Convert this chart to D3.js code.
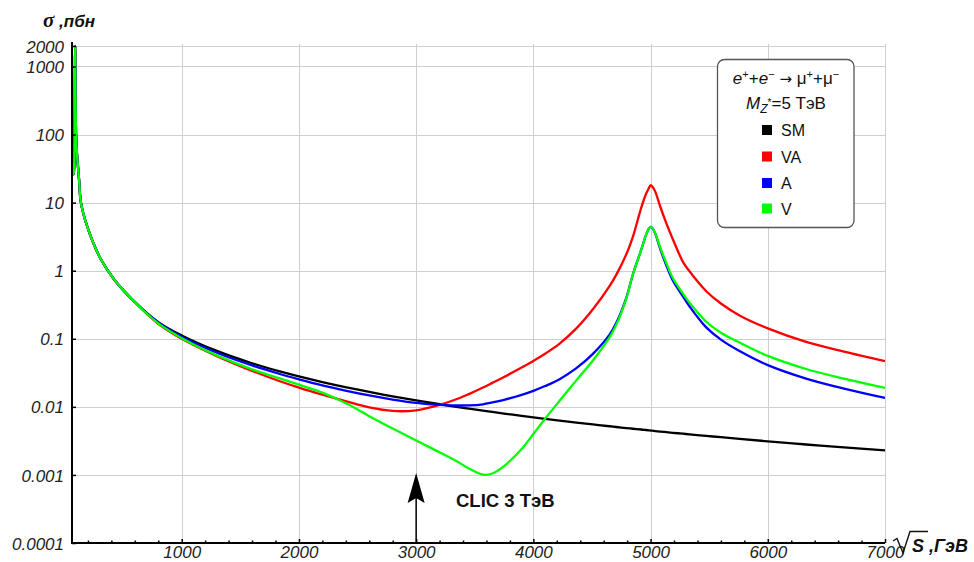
<!DOCTYPE html>
<html><head><meta charset="utf-8">
<script src="https://cdn.jsdelivr.net/npm/d3@7"></script>
<style>body{margin:0;background:#fff;} svg{display:block;}</style>
</head><body><svg id="chart" width="974" height="562"></svg>
<script>
// ---- data ----
const energyGeV = [64, 70, 76, 80, 84, 87, 89, 90, 91, 92, 93, 95, 98, 102, 108, 115, 124, 138, 160, 195, 240, 303, 422, 587,
  800, 1000, 1300, 1600, 1837, 2000, 2200, 2406, 2600, 2800, 3000, 3200, 3372, 3450, 3570, 3650, 3750, 3900, 4000, 4100,
  4224, 4367, 4508, 4650, 4707, 4793, 4849, 4920, 4960, 4985, 5000, 5015, 5040, 5080, 5134, 5190, 5276, 5332, 5475, 5600,
  5759, 6000, 6327, 6650, 7000];

const sigmaSM = [36, 30, 26, 28, 45, 130, 500, 1200, 2000, 1400, 650, 250, 110, 70, 48, 34, 22, 10.5, 7.0, 4.4, 2.7, 1.55, 0.75, 0.365,
  0.176, 0.112, 0.0663, 0.0437, 0.0332, 0.0280, 0.02314, 0.01935, 0.01657, 0.01429, 0.01245, 0.01094, 0.00985, 0.00941, 0.00879,
  0.00841, 0.00797, 0.00737, 0.0070, 0.00666, 0.00628, 0.00588, 0.00552, 0.00519, 0.00506, 0.00488, 0.00477, 0.00465, 0.00457,
  0.00452, 0.00449, 0.00446, 0.00441, 0.00434, 0.00425, 0.00416, 0.00403, 0.00394, 0.00374, 0.00358, 0.00338, 0.00312, 0.00280,
  0.00254, 0.00229];

const sigmaVA = [36, 30, 26, 28, 45, 130, 500, 1200, 2000, 1400, 650, 250, 110, 70, 48, 34, 22, 10.5, 7.0, 4.4, 2.7, 1.55, 0.75, 0.365,
  0.166, 0.100, 0.0556, 0.0338, 0.0238, 0.0192, 0.0151, 0.0120, 0.0098, 0.0087, 0.0089, 0.0107, 0.0135, 0.0154, 0.0192,
  0.0225, 0.0275, 0.0378, 0.0473, 0.0603, 0.0849, 0.142, 0.271, 0.594, 0.869, 1.74, 3.15, 8.4, 13.3, 16.3, 18, 17.3, 14.5,
  9.0, 5.0, 2.9, 1.35, 0.98, 0.50, 0.33, 0.22, 0.142, 0.090, 0.065, 0.047];

const sigmaA = [36, 30, 26, 28, 45, 130, 500, 1200, 2000, 1400, 650, 250, 110, 70, 48, 34, 22, 10.5, 7.0, 4.4, 2.7, 1.55, 0.75, 0.365,
  0.174, 0.107, 0.0624, 0.0406, 0.0304, 0.0254, 0.0207, 0.0172, 0.0147, 0.0128, 0.01146, 0.0107, 0.01047, 0.0105, 0.0109,
  0.0116, 0.0127, 0.0150, 0.0172, 0.0202, 0.0255, 0.037, 0.060, 0.115, 0.17, 0.40, 0.88, 2.02, 3.3, 4.15, 4.4, 4.25, 3.5,
  2.15, 1.2, 0.72, 0.42, 0.30, 0.147, 0.097, 0.066, 0.041, 0.026, 0.0185, 0.0135];

const sigmaV = [36, 30, 26, 28, 45, 130, 500, 1200, 2000, 1400, 650, 250, 110, 70, 48, 34, 22, 10.5, 7.0, 4.4, 2.7, 1.55, 0.75, 0.365,
  0.168, 0.102, 0.057, 0.0355, 0.0262, 0.0212, 0.0162, 0.0112, 0.0073, 0.0048, 0.0032, 0.00215, 0.00150, 0.00124, 0.00101,
  0.00105, 0.00135, 0.0024, 0.0040, 0.0067, 0.0123, 0.0245, 0.048, 0.105, 0.16, 0.39, 0.88, 2.02, 3.3, 4.15, 4.4, 4.25, 3.55,
  2.25, 1.3, 0.78, 0.46, 0.34, 0.178, 0.123, 0.088, 0.056, 0.036, 0.026, 0.019];

const seriesNames = ["SM", "VA", "A", "V"];
const seriesColors = ["#000000", "#ff0000", "#0000ff", "#00ff00"];
const xTickValues = [1000, 2000, 3000, 4000, 5000, 6000, 7000];
const xMinorTicks = d3.range(200, 7001, 200).filter(v => v % 1000 !== 0);
const yTickValues = [0.0001, 0.001, 0.01, 0.1, 1, 10, 100, 1000, 2000];
const yTickLabels = ["0.0001", "0.001", "0.01", "0.1", "1", "10", "100", "1000", "2000"];
const clicEnergy = 3000;

// ---- chart ----
const svg = d3.select("#chart");
const x = d3.scaleLinear().domain([64, 7000]).range([72, 885]);
const y = d3.scaleLog().domain([1e-4, 2000]).range([543, 46]);
const tickFont = "'Liberation Sans', Arial, sans-serif";

// grid
const grid = svg.append("g").attr("stroke", "#cfcfcf").attr("stroke-width", 1);
grid.selectAll("line.v").data(xTickValues).join("line")
  .attr("x1", d => Math.round(x(d)) + 0.5).attr("x2", d => Math.round(x(d)) + 0.5)
  .attr("y1", 44).attr("y2", 543);
grid.selectAll("line.h").data(yTickValues).join("line")
  .attr("x1", 72).attr("x2", 885)
  .attr("y1", d => Math.round(y(d)) + 0.5).attr("y2", d => Math.round(y(d)) + 0.5);

// curves
svg.append("clipPath").attr("id", "clip").append("rect")
  .attr("x", 72).attr("y", 38).attr("width", 820).attr("height", 505);
const seriesData = [sigmaSM, sigmaVA, sigmaA, sigmaV];
const line = d3.line().x(d => x(d[0])).y(d => y(d[1])).curve(d3.curveCatmullRom.alpha(0.5));
const curves = svg.append("g").attr("clip-path", "url(#clip)");
seriesData.forEach((vals, i) => {
  curves.append("path")
    .datum(energyGeV.map((e, j) => [e, vals[j]]))
    .attr("d", line)
    .attr("fill", "none")
    .attr("stroke", seriesColors[i])
    .attr("stroke-width", 2.3)
    .attr("stroke-linejoin", "round");
});

// axes
const xAxis = d3.axisBottom(x).tickValues(xTickValues).tickSizeInner(-4).tickSizeOuter(0)
  .tickPadding(9).tickFormat(d3.format("d"));
const gx = svg.append("g").attr("transform", "translate(0,543)").call(xAxis);
gx.select(".domain").attr("stroke", "#000").attr("stroke-width", 2).attr("d", "M72,0H885");
gx.selectAll(".tick line").attr("stroke", "#000").attr("stroke-width", 1.5);
gx.selectAll("text").attr("font-family", tickFont).attr("font-style", "italic")
  .attr("font-size", 17).attr("fill", "#222").attr("y", 15).attr("dy", 0);

const xMinor = d3.axisBottom(x).tickValues(xMinorTicks).tickSizeInner(-2.5).tickSizeOuter(0).tickFormat("");
const gxm = svg.append("g").attr("transform", "translate(0,543)").call(xMinor);
gxm.select(".domain").remove();
gxm.selectAll(".tick line").attr("stroke", "#000").attr("stroke-width", 1.5);

const yAxis = d3.axisLeft(y).tickValues(yTickValues).tickSizeInner(-4).tickSizeOuter(0)
  .tickPadding(8).tickFormat((d, i) => yTickLabels[i]);
const gy = svg.append("g").attr("transform", "translate(72,0)").call(yAxis);
gy.select(".domain").attr("stroke", "#000").attr("stroke-width", 2).attr("d", "M0,544V42");
gy.selectAll(".tick line").attr("stroke", "#000").attr("stroke-width", 1.5);
gy.selectAll("text").attr("font-family", tickFont).attr("font-style", "italic")
  .attr("font-size", 17).attr("fill", "#222").attr("dy", "0.36em");

// axis titles
const yt = svg.append("text").attr("x", 43).attr("y", 27).attr("fill", "#111")
  .attr("font-weight", "bold").attr("font-style", "italic");
yt.append("tspan").attr("font-family", "'Liberation Serif', serif").attr("font-size", 21).text("σ");
yt.append("tspan").attr("font-family", tickFont).attr("font-size", 17).text(" ,пбн");

svg.append("path").attr("d", "M893,541 L897,538.5 L903,553 L910,531.5 L928,531.5")
  .attr("fill", "none").attr("stroke", "#111").attr("stroke-width", 1.4);
const xt = svg.append("text").attr("x", 912).attr("y", 552).attr("fill", "#111")
  .attr("font-family", tickFont).attr("font-weight", "bold").attr("font-style", "italic").attr("font-size", 18);
xt.append("tspan").text("S");
xt.append("tspan").text(" ,ГэВ");

// CLIC annotation
const cx = x(clicEnergy);
svg.append("line").attr("x1", cx).attr("x2", cx).attr("y1", 543).attr("y2", 495)
  .attr("stroke", "#000").attr("stroke-width", 1.5);
svg.append("path").attr("d", `M${cx},473 L${cx + 8.5},503 L${cx},498 L${cx - 8.5},503 Z`).attr("fill", "#000");
svg.append("text").attr("x", 456).attr("y", 507).attr("font-family", tickFont).attr("font-weight", "bold")
  .attr("font-size", 18.5).attr("fill", "#111").text("CLIC 3 ТэВ");

// legend
const lg = svg.append("g");
lg.append("rect").attr("x", 717.5).attr("y", 59.5).attr("width", 136.5).attr("height", 168).attr("rx", 7)
  .attr("fill", "#fff").attr("stroke", "#555").attr("stroke-width", 1.3);
const l1 = lg.append("text").attr("x", 786).attr("y", 84).attr("text-anchor", "middle")
  .attr("font-family", tickFont).attr("font-size", 17).attr("fill", "#111");
l1.append("tspan").attr("font-style", "italic").text("e");
l1.append("tspan").attr("font-size", 11).attr("dy", -6).text("+");
l1.append("tspan").attr("dy", 6).text("+");
l1.append("tspan").attr("font-style", "italic").text("e");
l1.append("tspan").attr("font-size", 11).attr("dy", -6).text("−");
l1.append("tspan").attr("dy", 6).attr("font-family", "'DejaVu Sans', sans-serif").attr("font-size", 15).text(" → ");
l1.append("tspan").text("μ");
l1.append("tspan").attr("font-size", 11).attr("dy", -6).text("+");
l1.append("tspan").attr("dy", 6).text("+μ");
l1.append("tspan").attr("font-size", 11).attr("dy", -6).text("−");
const l2 = lg.append("text").attr("x", 786).attr("y", 109).attr("text-anchor", "middle")
  .attr("font-family", tickFont).attr("font-size", 17).attr("fill", "#111");
l2.append("tspan").attr("font-style", "italic").text("M");
l2.append("tspan").attr("font-style", "italic").attr("font-size", 12).attr("dy", 4).text("Z");
l2.append("tspan").attr("font-size", 10).attr("dy", -7).text("*");
l2.append("tspan").attr("dy", 3).text("=5 ТэВ");
const legendY = [130, 156.5, 183, 208.5];
seriesNames.forEach((n, i) => {
  lg.append("rect").attr("x", 762).attr("y", legendY[i] - 5).attr("width", 10).attr("height", 10)
    .attr("fill", seriesColors[i]);
  lg.append("text").attr("x", 781).attr("y", legendY[i] + 6).attr("font-family", tickFont)
    .attr("font-size", 16).attr("fill", "#111").text(n);
});
</script></body></html>
